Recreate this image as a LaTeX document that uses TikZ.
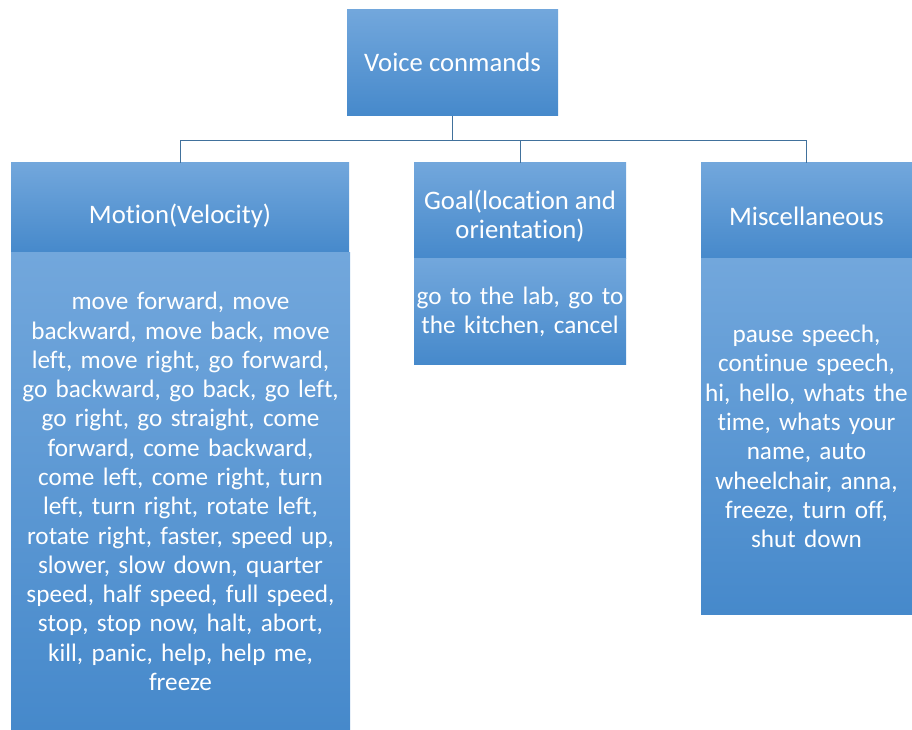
\documentclass[tikz,border=0pt]{standalone}
\usepackage{fontspec}
\setmainfont{Carlito}[Ligatures=CommonOff]
\begin{document}
\begin{tikzpicture}[x=1bp,y=1bp,
  shade/.style={draw=none, inner sep=0pt, outer sep=0pt, top color=boxTop, bottom color=boxBot, anchor=north west},
  box/.style={shade, text=white, align=center, font=\fontsize{25.3}{29.4}\selectfont},
  label text/.style={inner sep=0pt, text=white, align=center, font=\fontsize{26.8}{29.4}\selectfont},
  link/.style={draw=lineBlue, line width=1bp}
]
\definecolor{boxTop}{HTML}{72A7DC}
\definecolor{boxBot}{HTML}{4689CB}
\definecolor{lineBlue}{HTML}{41719C}
\useasboundingbox (0,0) rectangle (912,730);
% root
\node[shade, minimum width=211bp, minimum height=106bp] (root) at (347,720) {};
\node[label text, yshift=1bp] (rootT) at (root.center) {Voice conmands};
% headers
\node[shade, minimum width=338bp, minimum height=90bp] (motionH) at (11,567) {};
\node[shade, minimum width=212bp, minimum height=96bp] (goalH) at (414,567) {};
\node[shade, minimum width=211bp, minimum height=96bp] (miscH) at (701,567) {};
\node[label text, yshift=-8bp] (motionT) at (motionH.center) {Motion(Velocity)};
\node[label text, yshift=-5bp] (goalT) at (goalH.center) {Goal(location and\\orientation)};
\node[label text, yshift=-5bp] (miscT) at (miscH.center) {Miscellaneous};
% bodies
\node[box, minimum width=339bp, minimum height=477bp, text width=335bp] (motionB) at (11,477) {move forward, move\\backward, move back, move\\left, move right, go forward,\\go backward, go back, go left,\\go right, go straight, come\\forward, come backward,\\come left, come right, turn\\left, turn right, rotate left,\\rotate right, faster, speed up,\\slower, slow down, quarter\\speed, half speed, full speed,\\stop, stop now, halt, abort,\\kill, panic, help, help me,\\freeze};
\node[box, minimum width=212bp, minimum height=106bp, text width=210bp] (goalB) at (414,471) {go to the lab, go to\\the kitchen, cancel};
\node[box, minimum width=211bp, minimum height=355bp, text width=209bp] (miscB) at (701,471) {pause speech,\\continue speech,\\hi, hello, whats the\\time, whats your\\name, auto\\wheelchair, anna,\\freeze, turn off,\\shut down};
% connectors
\draw[link] (root.south) -- ++(0,-25) coordinate (j);
\draw[link] (j) -| (motionH.north);
\draw[link] (j) -| (miscH.north);
\draw[link] (goalH.north) -- (goalH.north |- j);
\end{tikzpicture}
\end{document}
